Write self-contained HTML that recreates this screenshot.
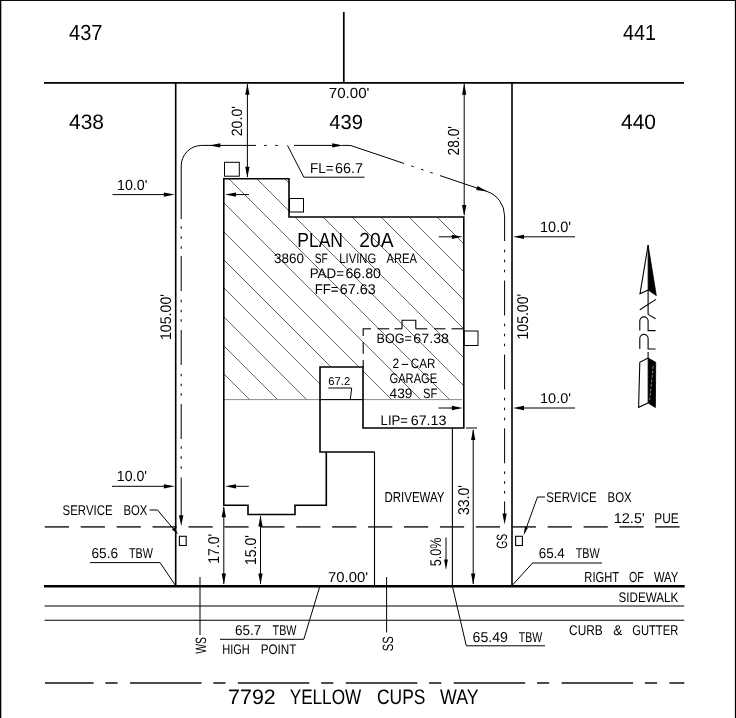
<!DOCTYPE html>
<html lang="en">
<head>
<meta charset="utf-8">
<title>Plot Plan - Lot 439 - 7792 Yellow Cups Way</title>
<style>
html,body{margin:0;padding:0;background:#fff;}
body{width:736px;height:718px;overflow:hidden;font-family:"Liberation Sans",sans-serif;}
svg{display:block;will-change:transform;filter:grayscale(1);}
text{white-space:pre;}
</style>
</head>
<body>
<svg width="736" height="718" viewBox="0 0 736 718" shape-rendering="geometricPrecision" text-rendering="geometricPrecision">
<rect x="0" y="0" width="736" height="718" fill="#fff"/>
<rect x="0" y="0" width="736" height="0.95" fill="#000"/>
<rect x="0" y="0" width="1.3" height="718" fill="#000"/>
<rect x="734.85" y="0" width="1.15" height="718" fill="#000"/>
<line x1="44" y1="82.8" x2="684" y2="82.8" stroke="#000" stroke-width="1.7"/>
<line x1="343.8" y1="12" x2="343.8" y2="82.8" stroke="#000" stroke-width="1.7"/>
<line x1="175.7" y1="82.8" x2="175.7" y2="585.5" stroke="#000" stroke-width="1.6"/>
<line x1="512" y1="82.8" x2="512" y2="585.5" stroke="#000" stroke-width="1.6"/>
<line x1="44" y1="586.3" x2="684.7" y2="586.3" stroke="#000" stroke-width="2.5"/>
<line x1="44.5" y1="606" x2="684.3" y2="606" stroke="#000" stroke-width="1.1"/>
<line x1="44.5" y1="620.2" x2="684.3" y2="620.2" stroke="#000" stroke-width="1.1"/>
<line x1="44.8" y1="526.9" x2="69.0" y2="526.9" stroke="#111" stroke-width="1.4"/>
<line x1="80.72" y1="526.9" x2="104.92" y2="526.9" stroke="#111" stroke-width="1.4"/>
<line x1="116.64" y1="526.9" x2="140.84" y2="526.9" stroke="#111" stroke-width="1.4"/>
<line x1="152.56" y1="526.9" x2="176.76" y2="526.9" stroke="#111" stroke-width="1.4"/>
<line x1="188.48" y1="526.9" x2="212.68" y2="526.9" stroke="#111" stroke-width="1.4"/>
<line x1="224.4" y1="526.9" x2="248.6" y2="526.9" stroke="#111" stroke-width="1.4"/>
<line x1="260.32" y1="526.9" x2="284.52" y2="526.9" stroke="#111" stroke-width="1.4"/>
<line x1="296.24" y1="526.9" x2="320.44" y2="526.9" stroke="#111" stroke-width="1.4"/>
<line x1="332.16" y1="526.9" x2="356.36" y2="526.9" stroke="#111" stroke-width="1.4"/>
<line x1="368.08" y1="526.9" x2="392.28" y2="526.9" stroke="#111" stroke-width="1.4"/>
<line x1="404.0" y1="526.9" x2="428.2" y2="526.9" stroke="#111" stroke-width="1.4"/>
<line x1="439.92" y1="526.9" x2="464.12" y2="526.9" stroke="#111" stroke-width="1.4"/>
<line x1="475.84" y1="526.9" x2="500.04" y2="526.9" stroke="#111" stroke-width="1.4"/>
<line x1="511.76" y1="526.9" x2="535.96" y2="526.9" stroke="#111" stroke-width="1.4"/>
<line x1="547.68" y1="526.9" x2="571.88" y2="526.9" stroke="#111" stroke-width="1.4"/>
<line x1="583.6" y1="526.9" x2="607.8" y2="526.9" stroke="#111" stroke-width="1.4"/>
<line x1="619.52" y1="526.9" x2="643.72" y2="526.9" stroke="#111" stroke-width="1.4"/>
<line x1="655.44" y1="526.9" x2="679.64" y2="526.9" stroke="#111" stroke-width="1.4"/>
<line x1="45" y1="683.0" x2="93.6" y2="683.0" stroke="#111" stroke-width="1.5"/>
<line x1="105.4" y1="683.0" x2="117.6" y2="683.0" stroke="#111" stroke-width="1.5"/>
<line x1="130.0" y1="683.0" x2="201.5" y2="683.0" stroke="#111" stroke-width="1.5"/>
<line x1="213.3" y1="683.0" x2="225.5" y2="683.0" stroke="#111" stroke-width="1.5"/>
<line x1="237.9" y1="683.0" x2="309.4" y2="683.0" stroke="#111" stroke-width="1.5"/>
<line x1="321.2" y1="683.0" x2="333.4" y2="683.0" stroke="#111" stroke-width="1.5"/>
<line x1="345.8" y1="683.0" x2="417.3" y2="683.0" stroke="#111" stroke-width="1.5"/>
<line x1="429.1" y1="683.0" x2="441.3" y2="683.0" stroke="#111" stroke-width="1.5"/>
<line x1="453.7" y1="683.0" x2="525.2" y2="683.0" stroke="#111" stroke-width="1.5"/>
<line x1="537.0" y1="683.0" x2="549.2" y2="683.0" stroke="#111" stroke-width="1.5"/>
<line x1="561.6" y1="683.0" x2="633.1" y2="683.0" stroke="#111" stroke-width="1.5"/>
<line x1="644.9" y1="683.0" x2="657.1" y2="683.0" stroke="#111" stroke-width="1.5"/>
<line x1="669.4" y1="683.0" x2="684.3" y2="683.0" stroke="#111" stroke-width="1.5"/>
<clipPath id="hc"><path d="M224,179 H289 V217 H464 V399.6 H363 V367 H320 V399.6 H224 Z"/></clipPath>
<g clip-path="url(#hc)" stroke="#4a4a4a" stroke-width="0.85">
<line x1="200" y1="350" x2="480" y2="630"/>
<line x1="200" y1="322" x2="480" y2="602"/>
<line x1="200" y1="293" x2="480" y2="573"/>
<line x1="200" y1="264" x2="480" y2="544"/>
<line x1="200" y1="236" x2="480" y2="516"/>
<line x1="200" y1="208" x2="480" y2="488"/>
<line x1="200" y1="179" x2="480" y2="459"/>
<line x1="200" y1="150" x2="480" y2="430"/>
<line x1="200" y1="122" x2="480" y2="402"/>
<line x1="200" y1="94" x2="480" y2="374"/>
<line x1="200" y1="65" x2="480" y2="345"/>
<line x1="200" y1="36" x2="480" y2="316"/>
<line x1="200" y1="8" x2="480" y2="288"/>
<line x1="200" y1="-20" x2="480" y2="260"/>
<line x1="200" y1="-49" x2="480" y2="231"/>
</g>
<line x1="224" y1="399.6" x2="462" y2="399.6" stroke="#666" stroke-width="0.75"/>
<line x1="320" y1="399.6" x2="363" y2="399.6" stroke="#000" stroke-width="1.0"/>
<polyline points="326.3,452 326.3,505.3 295,505.3 295,514.5 248,514.5 248,505.3 223.8,505.3 223.8,178.8 289,178.8 289,217 463.8,217 463.8,428 363,428 363,367 320,367 320,452 374.5,452" fill="none" stroke="#000" stroke-width="1.6" stroke-linejoin="miter"/>
<line x1="374.5" y1="452" x2="374.5" y2="585" stroke="#000" stroke-width="1.1"/>
<line x1="452.4" y1="428" x2="452.4" y2="585" stroke="#000" stroke-width="1.1"/>
<line x1="362.8" y1="328.8" x2="371" y2="328.8" stroke="#000" stroke-width="1.1"/>
<line x1="377.4" y1="328.8" x2="389.2" y2="328.8" stroke="#000" stroke-width="1.1"/>
<line x1="394.5" y1="328.8" x2="402" y2="328.8" stroke="#000" stroke-width="1.1"/>
<line x1="415.8" y1="328.8" x2="427.3" y2="328.8" stroke="#000" stroke-width="1.1"/>
<line x1="434.1" y1="328.8" x2="445.5" y2="328.8" stroke="#000" stroke-width="1.1"/>
<line x1="451.6" y1="328.8" x2="464" y2="328.8" stroke="#000" stroke-width="1.1"/>
<polyline points="402,328.8 402,320.2 415.8,320.2 415.8,328.8" fill="none" stroke="#000" stroke-width="1.1"/>
<line x1="363.2" y1="328.8" x2="363.2" y2="336" stroke="#000" stroke-width="1.1"/>
<line x1="363.2" y1="342.2" x2="363.2" y2="353.7" stroke="#000" stroke-width="1.1"/>
<line x1="363.2" y1="360" x2="363.2" y2="367" stroke="#000" stroke-width="1.1"/>
<rect x="224.5" y="162.3" width="14.800000000000011" height="13.899999999999977" fill="#fff" stroke="#000" stroke-width="1.0"/>
<rect x="289.5" y="198.5" width="14.0" height="13.5" fill="#fff" stroke="#000" stroke-width="1.0"/>
<rect x="464.3" y="331" width="13.699999999999989" height="14.5" fill="#fff" stroke="#000" stroke-width="1.0"/>
<rect x="179.4" y="536.3" width="6.799999999999983" height="9.200000000000045" fill="#fff" stroke="#000" stroke-width="1.1"/>
<rect x="515.6" y="536.3" width="6.7999999999999545" height="9.200000000000045" fill="#fff" stroke="#000" stroke-width="1.1"/>
<line x1="181.2" y1="256" x2="181.2" y2="291" stroke="#000" stroke-width="1.0"/>
<line x1="181.2" y1="330" x2="181.2" y2="365" stroke="#000" stroke-width="1.0"/>
<line x1="181.2" y1="404" x2="181.2" y2="439" stroke="#000" stroke-width="1.0"/>
<line x1="181.2" y1="226.2" x2="181.2" y2="228.8" stroke="#000" stroke-width="1.0"/>
<line x1="181.2" y1="236.2" x2="181.2" y2="238.8" stroke="#000" stroke-width="1.0"/>
<line x1="181.2" y1="246.2" x2="181.2" y2="248.8" stroke="#000" stroke-width="1.0"/>
<line x1="181.2" y1="299.7" x2="181.2" y2="302.3" stroke="#000" stroke-width="1.0"/>
<line x1="181.2" y1="309.7" x2="181.2" y2="312.3" stroke="#000" stroke-width="1.0"/>
<line x1="181.2" y1="319.2" x2="181.2" y2="321.8" stroke="#000" stroke-width="1.0"/>
<line x1="181.2" y1="373.7" x2="181.2" y2="376.3" stroke="#000" stroke-width="1.0"/>
<line x1="181.2" y1="383.7" x2="181.2" y2="386.3" stroke="#000" stroke-width="1.0"/>
<line x1="181.2" y1="393.2" x2="181.2" y2="395.8" stroke="#000" stroke-width="1.0"/>
<line x1="181.2" y1="446.2" x2="181.2" y2="448.8" stroke="#000" stroke-width="1.0"/>
<line x1="181.2" y1="456.2" x2="181.2" y2="458.8" stroke="#000" stroke-width="1.0"/>
<line x1="181.2" y1="466.2" x2="181.2" y2="468.8" stroke="#000" stroke-width="1.0"/>
<line x1="181.2" y1="477.5" x2="181.2" y2="520" stroke="#000" stroke-width="1.0"/>
<polygon points="181.20,526.30 179.05,515.30 183.35,515.30" fill="#000" stroke="none"/>
<path d="M181.2,219 V166 A20.5,20.5 0 0 1 201.7,145.4 H256" fill="none" stroke="#000" stroke-width="1.0"/>
<polygon points="209.30,145.40 220.30,143.25 220.30,147.55" fill="#000" stroke="none"/>
<line x1="264.2" y1="145.4" x2="266.8" y2="145.4" stroke="#000" stroke-width="1.0"/>
<line x1="275.2" y1="145.4" x2="277.8" y2="145.4" stroke="#000" stroke-width="1.0"/>
<line x1="294" y1="145.4" x2="338" y2="145.4" stroke="#000" stroke-width="1.0"/>
<polygon points="343.20,145.40 332.20,147.55 332.20,143.25" fill="#000" stroke="none"/>
<path d="M342,145.4 H348 Q351,145.4 353,146.27 L404,163.46" fill="none" stroke="#000" stroke-width="1.0"/>
<line x1="411.27" y1="165.91" x2="413.73" y2="166.74" stroke="#000" stroke-width="1.0"/>
<line x1="421.07" y1="169.21" x2="423.53" y2="170.04" stroke="#000" stroke-width="1.0"/>
<line x1="430.27" y1="172.31" x2="432.73" y2="173.14" stroke="#000" stroke-width="1.0"/>
<path d="M440,175.59 L486.8,191.36 A26,26 0 0 1 504.6,215.8 V241" fill="none" stroke="#000" stroke-width="1.0"/>
<polygon points="487.30,191.53 476.19,190.06 477.56,185.98" fill="#000" stroke="none"/>
<line x1="504.6" y1="280.5" x2="504.6" y2="315.5" stroke="#000" stroke-width="1.0"/>
<line x1="504.6" y1="354.5" x2="504.6" y2="389.5" stroke="#000" stroke-width="1.0"/>
<line x1="504.6" y1="428.3" x2="504.6" y2="463.3" stroke="#000" stroke-width="1.0"/>
<line x1="504.6" y1="249.7" x2="504.6" y2="252.3" stroke="#000" stroke-width="1.0"/>
<line x1="504.6" y1="259.7" x2="504.6" y2="262.3" stroke="#000" stroke-width="1.0"/>
<line x1="504.6" y1="269.7" x2="504.6" y2="272.3" stroke="#000" stroke-width="1.0"/>
<line x1="504.6" y1="323.7" x2="504.6" y2="326.3" stroke="#000" stroke-width="1.0"/>
<line x1="504.6" y1="333.7" x2="504.6" y2="336.3" stroke="#000" stroke-width="1.0"/>
<line x1="504.6" y1="343.7" x2="504.6" y2="346.3" stroke="#000" stroke-width="1.0"/>
<line x1="504.6" y1="397.7" x2="504.6" y2="400.3" stroke="#000" stroke-width="1.0"/>
<line x1="504.6" y1="407.7" x2="504.6" y2="410.3" stroke="#000" stroke-width="1.0"/>
<line x1="504.6" y1="417.7" x2="504.6" y2="420.3" stroke="#000" stroke-width="1.0"/>
<line x1="504.6" y1="471.4" x2="504.6" y2="474.0" stroke="#000" stroke-width="1.0"/>
<line x1="504.6" y1="481.2" x2="504.6" y2="483.8" stroke="#000" stroke-width="1.0"/>
<line x1="504.6" y1="491.0" x2="504.6" y2="493.6" stroke="#000" stroke-width="1.0"/>
<line x1="504.6" y1="501.5" x2="504.6" y2="518" stroke="#000" stroke-width="1.0"/>
<polygon points="504.60,524.50 502.45,513.50 506.75,513.50" fill="#000" stroke="none"/>
<line x1="247.4" y1="84" x2="247.4" y2="177" stroke="#000" stroke-width="1.0"/>
<polygon points="247.40,83.80 249.55,94.80 245.25,94.80" fill="#000" stroke="none"/>
<polygon points="247.40,177.80 245.25,166.80 249.55,166.80" fill="#000" stroke="none"/>
<line x1="464.2" y1="84" x2="464.2" y2="215" stroke="#000" stroke-width="1.0"/>
<polygon points="464.20,83.80 466.35,94.80 462.05,94.80" fill="#000" stroke="none"/>
<polygon points="464.20,216.00 462.05,205.00 466.35,205.00" fill="#000" stroke="none"/>
<line x1="473.2" y1="430" x2="473.2" y2="584" stroke="#000" stroke-width="1.0"/>
<polygon points="473.20,429.00 475.35,440.00 471.05,440.00" fill="#000" stroke="none"/>
<polygon points="473.20,584.40 471.05,573.40 475.35,573.40" fill="#000" stroke="none"/>
<line x1="466" y1="428" x2="477" y2="428" stroke="#000" stroke-width="1.0"/>
<line x1="223.8" y1="507" x2="223.8" y2="584" stroke="#000" stroke-width="1.0"/>
<polygon points="223.80,506.30 225.95,517.30 221.65,517.30" fill="#000" stroke="none"/>
<polygon points="223.80,584.40 221.65,573.40 225.95,573.40" fill="#000" stroke="none"/>
<line x1="260.5" y1="516" x2="260.5" y2="584" stroke="#000" stroke-width="1.0"/>
<polygon points="260.50,515.40 262.65,526.40 258.35,526.40" fill="#000" stroke="none"/>
<polygon points="260.50,584.40 258.35,573.40 262.65,573.40" fill="#000" stroke="none"/>
<line x1="112.5" y1="194.6" x2="170" y2="194.6" stroke="#000" stroke-width="1.0"/>
<polygon points="174.80,194.60 163.80,196.75 163.80,192.45" fill="#000" stroke="none"/>
<line x1="232" y1="194.6" x2="249" y2="194.6" stroke="#000" stroke-width="1.0"/>
<polygon points="225.00,194.60 236.00,192.45 236.00,196.75" fill="#000" stroke="none"/>
<line x1="112" y1="486.3" x2="170" y2="486.3" stroke="#000" stroke-width="1.0"/>
<polygon points="174.80,486.30 163.80,488.45 163.80,484.15" fill="#000" stroke="none"/>
<line x1="232" y1="486.3" x2="248.8" y2="486.3" stroke="#000" stroke-width="1.0"/>
<polygon points="225.00,486.30 236.00,484.15 236.00,488.45" fill="#000" stroke="none"/>
<line x1="518" y1="236.8" x2="575" y2="236.8" stroke="#000" stroke-width="1.0"/>
<polygon points="513.00,236.80 524.00,234.65 524.00,238.95" fill="#000" stroke="none"/>
<line x1="438.8" y1="236.8" x2="456" y2="236.8" stroke="#000" stroke-width="1.0"/>
<polygon points="462.80,236.80 451.80,238.95 451.80,234.65" fill="#000" stroke="none"/>
<line x1="518" y1="408" x2="575" y2="408" stroke="#000" stroke-width="1.0"/>
<polygon points="513.00,408.00 524.00,405.85 524.00,410.15" fill="#000" stroke="none"/>
<line x1="438.5" y1="408" x2="456" y2="408" stroke="#000" stroke-width="1.0"/>
<polygon points="462.80,408.00 451.80,410.15 451.80,405.85" fill="#000" stroke="none"/>
<line x1="446" y1="537.5" x2="446" y2="562" stroke="#000" stroke-width="1.0"/>
<polygon points="446.00,570.00 444.10,559.50 447.90,559.50" fill="#000" stroke="none"/>
<polyline points="287.5,145.4 303.8,177.2 364.5,177.2" fill="none" stroke="#000" stroke-width="1.0"/>
<polyline points="328.3,388 351.7,388 350.3,399.6" fill="none" stroke="#000" stroke-width="1.0"/>
<polyline points="149.5,510 157.5,510 176.5,532.5" fill="none" stroke="#000" stroke-width="1.0"/>
<polygon points="178.30,534.60 171.91,529.52 174.36,527.46" fill="#000" stroke="none"/>
<polyline points="545,497 537.5,497 524.8,532" fill="none" stroke="#000" stroke-width="1.0"/>
<polygon points="523.60,535.30 524.99,526.76 528.00,527.85" fill="#000" stroke="none"/>
<polyline points="90,562.6 160,562.6 175.2,585" fill="none" stroke="#000" stroke-width="1.0"/>
<polyline points="602,563 532.5,563 512.5,585" fill="none" stroke="#000" stroke-width="1.0"/>
<polyline points="220,639.3 303.8,639.3 319.6,587" fill="none" stroke="#000" stroke-width="1.0"/>
<polyline points="545,645.8 466.3,645.8 452.6,587" fill="none" stroke="#000" stroke-width="1.0"/>
<line x1="200" y1="577" x2="200" y2="635" stroke="#000" stroke-width="1.0"/>
<line x1="386.6" y1="577" x2="386.6" y2="632.5" stroke="#000" stroke-width="1.0"/>
<polygon points="648.1,245 656.3,295.6 648.1,290" fill="#000" stroke="#000" stroke-width="0.8"/>
<polyline points="648.1,245 640,293.8 648.1,290" fill="none" stroke="#000" stroke-width="1.1"/>
<line x1="648.1" y1="290" x2="648.1" y2="314.4" stroke="#000" stroke-width="1.1"/>
<line x1="656" y1="299.4" x2="639.8" y2="309.8" stroke="#000" stroke-width="1.1"/>
<line x1="648.1" y1="314.4" x2="655.6" y2="318.8" stroke="#000" stroke-width="1.1"/>
<path d="M639.8,330.6 V321 A4.15,4.15 0 0 1 648.1,321 V330.6 H655.6" fill="none" stroke="#000" stroke-width="1.1"/>
<path d="M639.8,349 V338.5 A4.15,4.15 0 0 1 648.1,338.5 V349 H655.6" fill="none" stroke="#000" stroke-width="1.1"/>
<line x1="648.1" y1="352" x2="648.1" y2="358" stroke="#000" stroke-width="1.1"/>
<polygon points="648.1,358 655.7,362.3 655.4,407.5 648.1,403" fill="#000" stroke="#000" stroke-width="0.8"/>
<polyline points="648.1,358 639.8,362.3 638.6,407.3 648.1,403" fill="none" stroke="#000" stroke-width="1.1"/>
<line x1="653.2" y1="366" x2="649.6" y2="401" stroke="#ddd" stroke-width="0.6" stroke-dasharray="3 1.5"/>
<g font-family="&quot;Liberation Sans&quot;, sans-serif" fill="#000">
<text x="69" y="40" font-size="21.93" textLength="33.50" lengthAdjust="spacingAndGlyphs">437</text>
<text x="623" y="40" font-size="21.93" textLength="33.00" lengthAdjust="spacingAndGlyphs">441</text>
<text x="69" y="129" font-size="20.95" textLength="35.00" lengthAdjust="spacingAndGlyphs">438</text>
<text x="621" y="129" font-size="20.95" textLength="35.00" lengthAdjust="spacingAndGlyphs">440</text>
<text x="329.3" y="128.8" font-size="20.25" textLength="33.70" lengthAdjust="spacingAndGlyphs">439</text>
<text x="328.8" y="97.5" font-size="14.66" textLength="40.70" lengthAdjust="spacingAndGlyphs">70.00'</text>
<text x="328" y="581.7" font-size="14.25" textLength="40.00" lengthAdjust="spacingAndGlyphs">70.00'</text>
<text x="297.3" y="247.2" font-size="20.53" textLength="45.70" lengthAdjust="spacingAndGlyphs">PLAN</text>
<text x="359.3" y="247.2" font-size="20.53" textLength="34.20" lengthAdjust="spacingAndGlyphs">20A</text>
<text x="274.1" y="262.8" font-size="13.69" textLength="29.80" lengthAdjust="spacingAndGlyphs">3860</text>
<text x="314.7" y="262.8" font-size="13.69" textLength="13.10" lengthAdjust="spacingAndGlyphs">SF</text>
<text x="339.3" y="262.8" font-size="13.69" textLength="37.00" lengthAdjust="spacingAndGlyphs">LIVING</text>
<text x="386.5" y="262.8" font-size="13.69" textLength="30.40" lengthAdjust="spacingAndGlyphs">AREA</text>
<text x="309.7" y="278.2" font-size="13.97" textLength="34.30" lengthAdjust="spacingAndGlyphs">PAD=</text>
<text x="345.4" y="278.2" font-size="13.97" textLength="35.60" lengthAdjust="spacingAndGlyphs">66.80</text>
<text x="314.7" y="293.6" font-size="14.11" textLength="23.90" lengthAdjust="spacingAndGlyphs">FF=</text>
<text x="339.8" y="293.6" font-size="14.11" textLength="36.00" lengthAdjust="spacingAndGlyphs">67.63</text>
<text x="376.6" y="343.2" font-size="13.55" textLength="35.20" lengthAdjust="spacingAndGlyphs">BOG=</text>
<text x="413.3" y="343.2" font-size="13.55" textLength="35.70" lengthAdjust="spacingAndGlyphs">67.38</text>
<text x="392.6" y="367.7" font-size="13.55" textLength="6.70" lengthAdjust="spacingAndGlyphs">2</text>
<text x="400.6" y="367.7" font-size="13.55" textLength="8.80" lengthAdjust="spacingAndGlyphs">-</text>
<text x="410.8" y="367.7" font-size="13.55" textLength="24.60" lengthAdjust="spacingAndGlyphs">CAR</text>
<text x="389.5" y="382.9" font-size="13.83" textLength="47.70" lengthAdjust="spacingAndGlyphs">GARAGE</text>
<text x="389.5" y="398.1" font-size="13.69" textLength="22.90" lengthAdjust="spacingAndGlyphs">439</text>
<text x="423" y="398.1" font-size="13.69" textLength="14.20" lengthAdjust="spacingAndGlyphs">SF</text>
<text x="380.6" y="424.5" font-size="13.69" textLength="27.40" lengthAdjust="spacingAndGlyphs">LIP=</text>
<text x="410.7" y="424.5" font-size="13.69" textLength="35.80" lengthAdjust="spacingAndGlyphs">67.13</text>
<text x="328.2" y="384.9" font-size="11.31" textLength="22.00" lengthAdjust="spacingAndGlyphs">67.2</text>
<text x="310" y="173.2" font-size="14.25" textLength="23.50" lengthAdjust="spacingAndGlyphs">FL=</text>
<text x="335" y="173.2" font-size="14.25" textLength="28.00" lengthAdjust="spacingAndGlyphs">66.7</text>
<text x="384.5" y="501.8" font-size="14.39" textLength="60.00" lengthAdjust="spacingAndGlyphs">DRIVEWAY</text>
<text x="117" y="189.5" font-size="14.66" textLength="30.50" lengthAdjust="spacingAndGlyphs">10.0'</text>
<text x="116.8" y="480.5" font-size="14.66" textLength="30.20" lengthAdjust="spacingAndGlyphs">10.0'</text>
<text x="540" y="231.8" font-size="15.08" textLength="31.00" lengthAdjust="spacingAndGlyphs">10.0'</text>
<text x="540" y="402.6" font-size="14.11" textLength="31.00" lengthAdjust="spacingAndGlyphs">10.0'</text>
<text x="62.6" y="515" font-size="14.11" textLength="50.00" lengthAdjust="spacingAndGlyphs">SERVICE</text>
<text x="123.5" y="515" font-size="14.11" textLength="23.90" lengthAdjust="spacingAndGlyphs">BOX</text>
<text x="546.3" y="502.1" font-size="14.11" textLength="50.40" lengthAdjust="spacingAndGlyphs">SERVICE</text>
<text x="607.6" y="502.1" font-size="14.11" textLength="24.10" lengthAdjust="spacingAndGlyphs">BOX</text>
<text x="91.5" y="558.4" font-size="14.25" textLength="26.50" lengthAdjust="spacingAndGlyphs">65.6</text>
<text x="128.9" y="558.4" font-size="14.25" textLength="23.90" lengthAdjust="spacingAndGlyphs">TBW</text>
<text x="538.7" y="558.4" font-size="14.25" textLength="26.10" lengthAdjust="spacingAndGlyphs">65.4</text>
<text x="575.7" y="558.4" font-size="14.25" textLength="23.90" lengthAdjust="spacingAndGlyphs">TBW</text>
<text x="235" y="635" font-size="14.11" textLength="26.30" lengthAdjust="spacingAndGlyphs">65.7</text>
<text x="272.6" y="635" font-size="14.11" textLength="23.90" lengthAdjust="spacingAndGlyphs">TBW</text>
<text x="222.2" y="654.2" font-size="13.83" textLength="27.60" lengthAdjust="spacingAndGlyphs">HIGH</text>
<text x="260.7" y="654.2" font-size="13.83" textLength="35.80" lengthAdjust="spacingAndGlyphs">POINT</text>
<text x="472.6" y="641.7" font-size="14.25" textLength="35.40" lengthAdjust="spacingAndGlyphs">65.49</text>
<text x="518.7" y="641.7" font-size="14.25" textLength="23.50" lengthAdjust="spacingAndGlyphs">TBW</text>
<text x="613.7" y="523" font-size="14.11" textLength="31.10" lengthAdjust="spacingAndGlyphs">12.5'</text>
<text x="654.3" y="523" font-size="14.11" textLength="24.40" lengthAdjust="spacingAndGlyphs">PUE</text>
<text x="584.3" y="581.6" font-size="14.53" textLength="34.80" lengthAdjust="spacingAndGlyphs">RIGHT</text>
<text x="628.9" y="581.6" font-size="14.53" textLength="14.80" lengthAdjust="spacingAndGlyphs">OF</text>
<text x="653.9" y="581.6" font-size="14.53" textLength="24.40" lengthAdjust="spacingAndGlyphs">WAY</text>
<text x="618.6" y="602" font-size="13.83" textLength="59.70" lengthAdjust="spacingAndGlyphs">SIDEWALK</text>
<text x="569.1" y="634.9" font-size="14.11" textLength="33.70" lengthAdjust="spacingAndGlyphs">CURB</text>
<text x="613.3" y="634.9" font-size="14.11" textLength="9.10" lengthAdjust="spacingAndGlyphs">&amp;</text>
<text x="632.2" y="634.9" font-size="14.11" textLength="46.10" lengthAdjust="spacingAndGlyphs">GUTTER</text>
<text x="228.1" y="704.3" font-size="20.95" textLength="47.70" lengthAdjust="spacingAndGlyphs">7792</text>
<text x="289.7" y="704.3" font-size="20.95" textLength="71.50" lengthAdjust="spacingAndGlyphs">YELLOW</text>
<text x="377" y="704.3" font-size="20.95" textLength="48.40" lengthAdjust="spacingAndGlyphs">CUPS</text>
<text x="440.1" y="704.3" font-size="20.95" textLength="38.50" lengthAdjust="spacingAndGlyphs">WAY</text>
<text transform="translate(171,340) rotate(-90)" x="0" y="0" font-size="15.36" textLength="46.00" lengthAdjust="spacingAndGlyphs">105.00'</text>
<text transform="translate(527.7,339.5) rotate(-90)" x="0" y="0" font-size="15.64" textLength="45.70" lengthAdjust="spacingAndGlyphs">105.00'</text>
<text transform="translate(242,136.3) rotate(-90)" x="0" y="0" font-size="14.94" textLength="30.30" lengthAdjust="spacingAndGlyphs">20.0'</text>
<text transform="translate(459.3,155.5) rotate(-90)" x="0" y="0" font-size="16.06" textLength="29.50" lengthAdjust="spacingAndGlyphs">28.0'</text>
<text transform="translate(468.7,515) rotate(-90)" x="0" y="0" font-size="15.64" textLength="30.00" lengthAdjust="spacingAndGlyphs">33.0'</text>
<text transform="translate(218.7,563.8) rotate(-90)" x="0" y="0" font-size="15.64" textLength="30.00" lengthAdjust="spacingAndGlyphs">17.0'</text>
<text transform="translate(255.6,565) rotate(-90)" x="0" y="0" font-size="15.78" textLength="30.00" lengthAdjust="spacingAndGlyphs">15.0'</text>
<text transform="translate(440.6,566.3) rotate(-90)" x="0" y="0" font-size="15.50" textLength="28.80" lengthAdjust="spacingAndGlyphs">5.0%</text>
<text transform="translate(205.7,653.8) rotate(-90)" x="0" y="0" font-size="14.94" textLength="16.80" lengthAdjust="spacingAndGlyphs">WS</text>
<text transform="translate(392.5,651.3) rotate(-90)" x="0" y="0" font-size="14.94" textLength="15.00" lengthAdjust="spacingAndGlyphs">SS</text>
<text transform="translate(507,548.8) rotate(-90)" x="0" y="0" font-size="14.94" textLength="15.00" lengthAdjust="spacingAndGlyphs">GS</text>
</g>
</svg>
</body>
</html>
